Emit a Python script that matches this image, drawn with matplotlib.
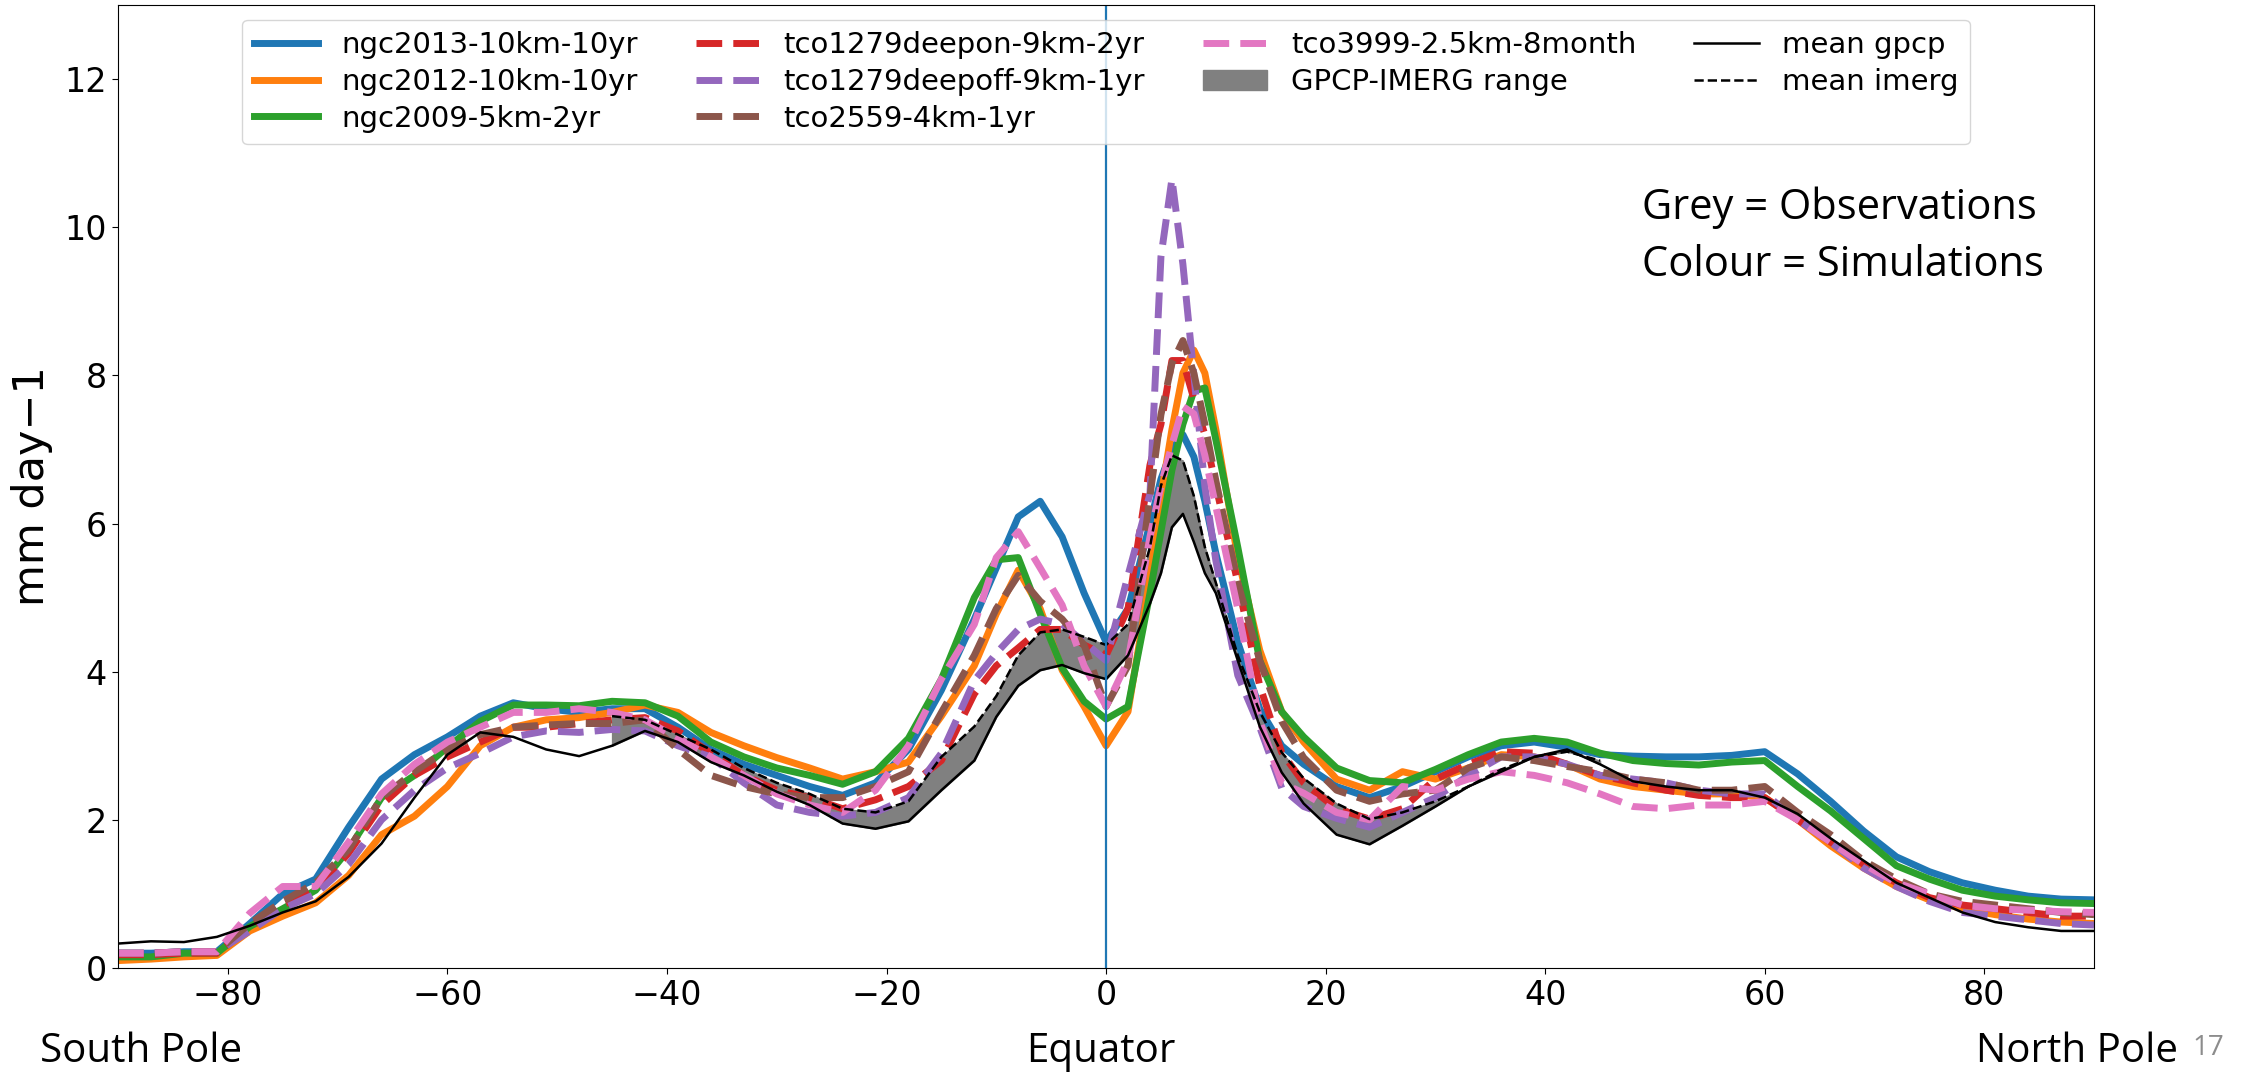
import numpy as np
import matplotlib
matplotlib.use("Agg")
import matplotlib.pyplot as plt

# latitude grid (deg)
lat = np.array([-90, -87, -84, -81, -78, -75, -72, -69, -66, -63, -60, -57, -54, -51, -48,
                -45, -42, -39, -36, -33, -30, -27, -24, -21, -18, -15,
                -12, -10, -8, -6, -4, -2, 0, 2,
                4, 5, 6, 7, 8, 9, 10,
                12, 14, 16, 18,
                21, 24, 27, 30, 33, 36, 39, 42, 45, 48, 51, 54, 57, 60, 63, 66, 69,
                72, 75, 78, 81, 84, 87, 90])

nan = np.nan

# observations (mm/day)
gpcp = [0.33, 0.36, 0.35, 0.42, 0.57, 0.75, 0.9, 1.23, 1.68, 2.3, 2.88, 3.18, 3.12, 2.95, 2.86,
        3.0, 3.2, 3.05, 2.78, 2.6, 2.38, 2.2, 1.95, 1.88, 1.98, 2.4,
        2.8, 3.39, 3.81, 4.02, 4.09, 3.98, 3.9, 4.22,
        4.92, 5.33, 5.95, 6.13, 5.75, 5.33, 5.06,
        4.15, 3.26, 2.64, 2.22,
        1.8, 1.67, 1.92, 2.18, 2.45, 2.65, 2.85, 2.95, 2.75, 2.52, 2.45, 2.4, 2.4, 2.3, 2.08, 1.75, 1.45,
        1.15, 0.95, 0.75, 0.62, 0.55, 0.5, 0.5]
imerg = [nan, nan, nan, nan, nan, nan, nan, nan, nan, nan, nan, nan, nan, nan, nan,
         3.4, 3.35, 3.15, 2.95, 2.7, 2.5, 2.35, 2.15, 2.1, 2.25, 2.85,
         3.26, 3.67, 4.22, 4.53, 4.57, 4.47, 4.36, 4.64,
         5.68, 6.51, 6.92, 6.85, 6.37, 5.68, 5.2,
         4.22, 3.46, 2.91, 2.56,
         2.22, 2.01, 2.1, 2.25, 2.45, 2.68, 2.85, 2.92, 2.8, nan, nan, nan, nan, nan, nan, nan, nan,
         nan, nan, nan, nan, nan, nan, nan]

# simulations (mm/day)
ngc2013 = [0.2, 0.2, 0.22, 0.22, 0.6, 1.0, 1.2, 1.9, 2.55, 2.88, 3.12, 3.4, 3.58, 3.5, 3.45,
           3.5, 3.5, 3.25, 2.95, 2.75, 2.6, 2.45, 2.33, 2.5, 2.95, 3.75,
           4.71, 5.4, 6.09, 6.3, 5.82, 5.06, 4.4, 4.85,
           6.0, 6.6, 7.0, 7.2, 6.9, 6.3, 5.6,
           4.4, 3.5, 3.0, 2.75,
           2.45, 2.3, 2.45, 2.65, 2.85, 3.0, 3.05, 2.98, 2.88, 2.86, 2.85, 2.85, 2.87, 2.92, 2.62, 2.25, 1.85,
           1.5, 1.3, 1.15, 1.05, 0.97, 0.93, 0.92]
ngc2012 = [0.1, 0.12, 0.15, 0.17, 0.5, 0.7, 0.88, 1.25, 1.8, 2.05, 2.45, 3.0, 3.25, 3.35, 3.38,
           3.45, 3.55, 3.45, 3.18, 3.0, 2.84, 2.7, 2.55, 2.65, 2.78, 3.4,
           4.08, 4.78, 5.37, 4.85, 4.02, 3.53, 3.0, 3.46,
           5.26, 6.37, 7.27, 8.03, 8.34, 8.03, 7.27,
           5.54, 4.29, 3.46, 3.05,
           2.55, 2.4, 2.65, 2.55, 2.7, 2.88, 2.85, 2.75, 2.55, 2.45, 2.4, 2.35, 2.35, 2.3, 2.0, 1.65, 1.35,
           1.1, 0.92, 0.8, 0.72, 0.66, 0.62, 0.6]
ngc2009 = [0.15, 0.15, 0.2, 0.2, 0.56, 0.8, 1.05, 1.6, 2.3, 2.6, 2.98, 3.33, 3.55, 3.55, 3.54,
           3.6, 3.58, 3.4, 3.05, 2.85, 2.7, 2.6, 2.48, 2.65, 3.1, 3.9,
           5.0, 5.51, 5.54, 4.78, 4.05, 3.6, 3.36, 3.53,
           5.06, 5.89, 6.72, 7.34, 7.79, 7.83, 7.13,
           5.68, 4.15, 3.46, 3.12,
           2.7, 2.53, 2.5, 2.68, 2.88, 3.05, 3.1, 3.05, 2.9, 2.8, 2.76, 2.74, 2.78, 2.8, 2.45, 2.12, 1.75,
           1.38, 1.2, 1.05, 0.97, 0.92, 0.88, 0.87]
tco1279_on = [0.18, 0.18, 0.2, 0.2, 0.55, 0.85, 1.05, 1.55, 2.2, 2.6, 2.85, 3.05, 3.25, 3.25, 3.3,
              3.35, 3.38, 3.2, 2.9, 2.6, 2.4, 2.3, 2.15, 2.27, 2.45, 2.8,
              3.7, 4.08, 4.32, 4.57, 4.57, 4.36, 4.22, 4.85,
              6.79, 7.34, 8.2, 8.2, 7.68, 7.2, 6.51,
              5.2, 3.81, 2.91, 2.5,
              2.15, 2.01, 2.15, 2.55, 2.75, 2.92, 2.9, 2.75, 2.6, 2.5, 2.4, 2.33, 2.3, 2.3, 2.0, 1.7, 1.4,
              1.15, 0.95, 0.85, 0.8, 0.75, 0.7, 0.7]
tco1279_off = [0.2, 0.2, 0.22, 0.22, 0.5, 0.8, 1.0, 1.4, 2.0, 2.4, 2.7, 2.9, 3.12, 3.2, 3.18,
               3.22, 3.2, 3.0, 2.85, 2.5, 2.2, 2.1, 2.05, 2.1, 2.3, 2.9,
               3.88, 4.25, 4.57, 4.71, 4.64, 4.4, 4.15, 5.3,
               6.4, 9.6, 10.65, 9.5, 8.0, 6.5, 5.5,
               3.95, 3.25, 2.43, 2.18,
               2.02, 1.9, 2.1, 2.3, 2.6, 2.85, 2.85, 2.75, 2.6, 2.55, 2.5, 2.4, 2.35, 2.35, 2.0, 1.7, 1.35,
               1.1, 0.9, 0.75, 0.7, 0.65, 0.6, 0.58]
tco2559 = [0.2, 0.2, 0.22, 0.22, 0.6, 0.9, 1.15, 1.6, 2.3, 2.65, 2.95, 3.15, 3.25, 3.28, 3.3,
           3.3, 3.35, 2.95, 2.6, 2.45, 2.35, 2.3, 2.3, 2.45, 2.65, 3.45,
           4.22, 4.85, 5.3, 4.95, 4.71, 4.36, 3.53, 4.08,
           6.37, 7.47, 8.16, 8.47, 8.03, 7.34, 6.58,
           5.2, 4.15, 3.33, 2.84,
           2.4, 2.25, 2.35, 2.4, 2.7, 2.85, 2.8, 2.72, 2.65, 2.55, 2.5, 2.4, 2.4, 2.45, 2.1, 1.8, 1.45,
           1.2, 1.0, 0.9, 0.85, 0.8, 0.75, 0.72]
tco3999 = [0.2, 0.2, 0.22, 0.22, 0.74, 1.1, 1.1, 1.7, 2.35, 2.75, 3.05, 3.25, 3.45, 3.45, 3.5,
           3.45, 3.35, 3.1, 2.85, 2.6, 2.35, 2.2, 2.1, 2.4, 3.0, 3.9,
           4.64, 5.54, 5.89, 5.4, 4.9, 4.08, 3.53, 4.15,
           5.82, 6.51, 7.06, 7.58, 7.48, 6.92, 6.23,
           4.85, 3.33, 2.5, 2.36,
           2.1, 2.0, 2.45, 2.4, 2.55, 2.65, 2.6, 2.5, 2.35, 2.18, 2.15, 2.2, 2.2, 2.25, 2.0, 1.7, 1.4,
           1.15, 1.0, 0.85, 0.8, 0.78, 0.76, 0.75]

solid_runs = [("ngc2013-10km-10yr", ngc2013, "tab:blue"),
              ("ngc2012-10km-10yr", ngc2012, "tab:orange"),
              ("ngc2009-5km-2yr", ngc2009, "tab:green")]
dashed_runs = [("tco1279deepon-9km-2yr", tco1279_on, "tab:red"),
               ("tco1279deepoff-9km-1yr", tco1279_off, "tab:purple"),
               ("tco2559-4km-1yr", tco2559, "tab:brown"),
               ("tco3999-2.5km-8month", tco3999, "tab:pink")]

gpcp = np.array(gpcp)
imerg = np.array(imerg)

fig = plt.figure(figsize=(22.49, 10.74), dpi=100)
ax = fig.add_axes([0.0525, 0.0987, 0.8786, 0.8967])

for name, vals, col in solid_runs:
    ax.plot(lat, vals, color=col, lw=5, label=name)
for name, vals, col in dashed_runs:
    ax.plot(lat, vals, color=col, lw=5, ls="--", label=name)

ok = np.isfinite(imerg)
ax.fill_between(lat, gpcp, np.where(ok, imerg, gpcp), where=ok,
                color="grey", label="GPCP-IMERG range")
ax.plot(lat, gpcp, color="black", lw=1.8, label="mean gpcp")
ax.plot(lat, imerg, color="black", lw=1.8, ls="--", label="mean imerg")

ax.axvline(0, color="tab:blue", lw=1.6)

ax.set_xlim(-90, 90)
ax.set_ylim(0, 13)
ax.set_xticks([-80, -60, -40, -20, 0, 20, 40, 60, 80])
ax.set_yticks([0, 2, 4, 6, 8, 10, 12])
ax.tick_params(labelsize=24, length=4.5)
ax.set_ylabel("mm day\u22121", fontsize=31, labelpad=8)

ax.legend(ncol=4, loc="upper center", bbox_to_anchor=(0.5, 1.0), fontsize=21,
          handlelength=2.2, handletextpad=0.8, columnspacing=2.0, labelspacing=0.3,
          borderaxespad=0.5)

side = dict(family="Open Sans", va="baseline", ha="left")
fig.text(0.730, 0.796, "Grey = Observations", fontsize=30, **side)
fig.text(0.730, 0.743, "Colour = Simulations", fontsize=30, **side)

fig.text(0.018, 0.011, "South Pole", fontsize=29, **side)
fig.text(0.4896, 0.011, "Equator", fontsize=29, family="Open Sans", va="baseline", ha="center")
fig.text(0.8786, 0.011, "North Pole", fontsize=29, **side)
fig.text(0.9747, 0.0177, "17", fontsize=20, color="#8c8c8c", **side)

fig.savefig("out.png", dpi=100)
